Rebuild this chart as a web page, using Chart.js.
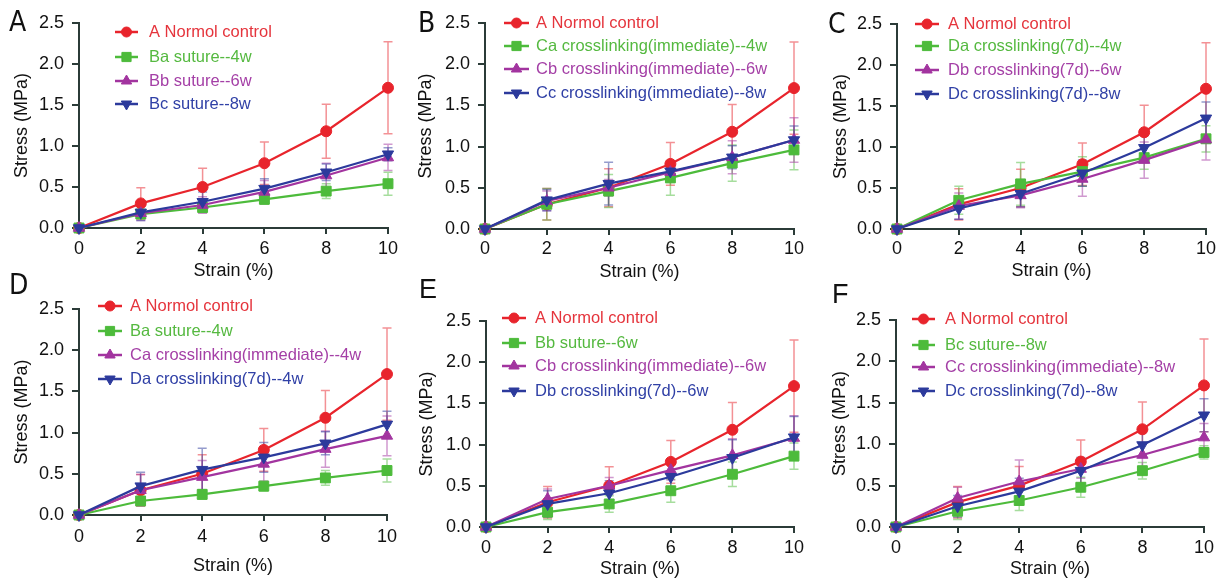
<!DOCTYPE html>
<html><head><meta charset="utf-8">
<script src="https://cdn.jsdelivr.net/npm/chart.js@4.4.0/dist/chart.umd.min.js"></script>
<style>
html,body{margin:0;padding:0;background:#fff;width:1225px;height:580px;overflow:hidden;}
.pc{position:absolute;}
.letter{position:absolute;font-family:"Liberation Sans Narrow","DejaVu Sans Condensed",sans-serif;font-size:28px;color:#111;line-height:1;}
</style></head><body>
<script>
// ---------- data ----------
const strain = [0, 2, 4, 6, 8, 10];
const xTickValues = [0, 2, 4, 6, 8, 10];
const yTickValues = [0, 0.5, 1.0, 1.5, 2.0, 2.5];
const yTickLabels = ['0.0', '0.5', '1.0', '1.5', '2.0', '2.5'];

const normalMean = [0, 0.30, 0.50, 0.79, 1.18, 1.71];
const normalSD   = [0, 0.19, 0.23, 0.26, 0.33, 0.56];
const baMean = [0, 0.17, 0.25, 0.35, 0.45, 0.54];
const baSD   = [0, 0.05, 0.06, 0.06, 0.09, 0.14];
const bbMean = [0, 0.18, 0.28, 0.44, 0.64, 0.86];
const bbSD   = [0, 0.09, 0.10, 0.14, 0.15, 0.16];
const bcMean = [0, 0.19, 0.32, 0.48, 0.68, 0.90];
const bcSD   = [0, 0.10, 0.12, 0.12, 0.10, 0.08];
const caMean = [0, 0.30, 0.46, 0.62, 0.80, 0.96];
const caSD   = [0, 0.19, 0.20, 0.21, 0.22, 0.24];
const cbMean = [0, 0.34, 0.50, 0.69, 0.87, 1.08];
const cbSD   = [0, 0.12, 0.10, 0.12, 0.20, 0.27];
const ccMean = [0, 0.35, 0.55, 0.70, 0.87, 1.08];
const ccSD   = [0, 0.13, 0.26, 0.11, 0.14, 0.17];
const daMean = [0, 0.35, 0.55, 0.70, 0.87, 1.10];
const daSD   = [0, 0.17, 0.26, 0.18, 0.14, 0.16];
const dbMean = [0, 0.28, 0.41, 0.61, 0.84, 1.09];
const dbSD   = [0, 0.16, 0.15, 0.21, 0.22, 0.25];
const dcMean = [0, 0.25, 0.43, 0.68, 0.99, 1.35];
const dcSD   = [0, 0.13, 0.16, 0.16, 0.15, 0.20];

const lblNormal = 'A Normol control';
const lblBa = 'Ba suture--4w', lblBb = 'Bb suture--6w', lblBc = 'Bc suture--8w';
const lblCa = 'Ca crosslinking(immediate)--4w', lblCb = 'Cb crosslinking(immediate)--6w', lblCc = 'Cc crosslinking(immediate)--8w';
const lblDa = 'Da crosslinking(7d)--4w', lblDb = 'Db crosslinking(7d)--6w', lblDc = 'Dc crosslinking(7d)--8w';

const panelLetters = ['A', 'B', 'C', 'D', 'E', 'F'];
const panelSeries = [
  [[lblNormal, normalMean, normalSD], [lblBa, baMean, baSD], [lblBb, bbMean, bbSD], [lblBc, bcMean, bcSD]],
  [[lblNormal, normalMean, normalSD], [lblCa, caMean, caSD], [lblCb, cbMean, cbSD], [lblCc, ccMean, ccSD]],
  [[lblNormal, normalMean, normalSD], [lblDa, daMean, daSD], [lblDb, dbMean, dbSD], [lblDc, dcMean, dcSD]],
  [[lblNormal, normalMean, normalSD], [lblBa, baMean, baSD], [lblCa, caMean, caSD], [lblDa, daMean, daSD]],
  [[lblNormal, normalMean, normalSD], [lblBb, bbMean, bbSD], [lblCb, cbMean, cbSD], [lblDb, dbMean, dbSD]],
  [[lblNormal, normalMean, normalSD], [lblBc, bcMean, bcSD], [lblCc, ccMean, ccSD], [lblDc, dcMean, dcSD]]
];

// ---------- styles / layout ----------
const styles = [
  {line: '#e8242c', err: 'rgba(232,36,44,0.5)', text: '#e5343c', point: 'circle', radius: 5.5, rot: 0},
  {line: '#4dbb3b', err: 'rgba(77,187,59,0.5)', text: '#55b940', point: 'rect', radius: 7, rot: 0},
  {line: '#a2349f', err: 'rgba(162,52,159,0.5)', text: '#a43fa6', point: 'triangle', radius: 6.5, rot: 0},
  {line: '#2c3a9c', err: 'rgba(44,58,156,0.5)', text: '#3040a6', point: 'triangle', radius: 6.5, rot: 180}
];
const AXIS = '#2b3b38';
const layouts = [
  {box: [0, 0, 405, 285],    area: [79, 23, 388, 228],   ytx: 22, xty: 271, xtk: 249, leg: {x0: 115, x1: 138, tx: 149, rows: [32, 57, 81, 104]}, letter: [9, 8, 'n']},
  {box: [405, 0, 410, 285],  area: [485, 23, 794, 229],  ytx: 21, xty: 272, xtk: 249, leg: {x0: 99, x1: 124, tx: 131, rows: [23, 46, 69, 93]}, letter: [418, 9, 'n']},
  {box: [815, 0, 410, 285],  area: [897, 24, 1206, 229], ytx: 26, xty: 271, xtk: 249, leg: {x0: 100, x1: 124, tx: 133, rows: [24, 46, 70, 94]}, letter: [828, 10, 'n']},
  {box: [0, 285, 405, 295],  area: [79, 309, 387, 515],  ytx: 22, xty: 566, xtk: 537, leg: {x0: 98, x1: 122, tx: 130, rows: [21, 46, 70, 94]}, letter: [9, 271, 'n']},
  {box: [405, 285, 410, 295],area: [486, 321, 794, 527], ytx: 22, xty: 570, xtk: 548, leg: {x0: 97, x1: 121, tx: 130, rows: [33, 58, 81, 106]}, letter: [419, 276, 'r']},
  {box: [815, 285, 410, 295],area: [896, 320, 1204, 527],ytx: 25, xty: 570, xtk: 548, leg: {x0: 97, x1: 120, tx: 130, rows: [34, 60, 82, 106]}, letter: [832, 281, 'r']}
];

const TICK_FONT = 18, TITLE_FONT = 18, LEG_FONT = 16.5;

const errorBars = {
  id: 'errorBars',
  beforeDatasetsDraw(chart) {
    const {ctx} = chart, xs = chart.scales.x, ys = chart.scales.y;
    chart.data.datasets.forEach((ds, i) => {
      ctx.save();
      ctx.strokeStyle = ds.errColor;
      ctx.lineWidth = 1.5;
      ds.data.forEach((pt, j) => {
        const e = ds.errors[j];
        if (!e) return;
        const px = xs.getPixelForValue(pt.x);
        const yt = ys.getPixelForValue(pt.y + e), yb = ys.getPixelForValue(pt.y - e);
        ctx.beginPath();
        ctx.moveTo(px, yt); ctx.lineTo(px, yb);
        ctx.moveTo(px - 4.5, yt); ctx.lineTo(px + 4.5, yt);
        ctx.moveTo(px - 4.5, yb); ctx.lineTo(px + 4.5, yb);
        ctx.stroke();
      });
      ctx.restore();
    });
  }
};

const innerLegend = {
  id: 'innerLegend',
  afterDraw(chart, args, opts) {
    const ctx = chart.ctx;
    chart.data.datasets.forEach((ds, i) => {
      const yy = opts.rows[i];
      ctx.save();
      ctx.strokeStyle = ds.borderColor;
      ctx.fillStyle = ds.borderColor;
      ctx.lineWidth = 2.5;
      ctx.beginPath(); ctx.moveTo(opts.x0, yy); ctx.lineTo(opts.x1, yy); ctx.stroke();
      ctx.lineWidth = 1;
      Chart.helpers.drawPoint(ctx, {pointStyle: ds.pointStyle, rotation: ds.pointRotation, radius: ds.pointRadius - 0.5, borderWidth: 1}, (opts.x0 + opts.x1) / 2, yy);
      ctx.fillStyle = ds.textColor;
      ctx.font = LEG_FONT + 'px "Liberation Sans", Arial, sans-serif';
      ctx.textBaseline = 'middle';
      ctx.textAlign = 'left';
      ctx.fillText(ds.label, opts.tx, yy + 0.5);
      ctx.restore();
    });
  }
};

layouts.forEach((L, pi) => {
  const [bl, bt, bw, bh] = L.box;
  const [al, at, ar, ab] = L.area;
  const holder = document.createElement('div');
  holder.className = 'pc';
  holder.style.left = bl + 'px'; holder.style.top = bt + 'px';
  holder.style.width = bw + 'px'; holder.style.height = bh + 'px';
  const cv = document.createElement('canvas');
  cv.width = bw; cv.height = bh;
  cv.style.width = bw + 'px'; cv.style.height = bh + 'px';
  holder.appendChild(cv);
  document.body.appendChild(holder);

  const let_ = document.createElement('div');
  let_.className = 'letter';
  let_.textContent = panelLetters[pi];
  let_.style.left = L.letter[0] + 'px'; let_.style.top = L.letter[1] + 'px';
  if (L.letter[2] === 'r') { let_.style.fontFamily = '"Liberation Sans", Arial, sans-serif'; let_.style.fontSize = '27px'; }
  document.body.appendChild(let_);

  const datasets = panelSeries[pi].map((s, si) => {
    const st = styles[si];
    return {
      label: s[0],
      data: strain.map((x, k) => ({x: x, y: s[1][k]})),
      errors: s[2],
      errColor: st.err,
      textColor: st.text,
      borderColor: st.line,
      backgroundColor: st.line,
      pointBackgroundColor: st.line,
      pointBorderColor: st.line,
      pointStyle: st.point,
      pointRotation: st.rot,
      pointRadius: st.radius,
      pointBorderWidth: 1,
      borderWidth: 2.2,
      tension: 0,
      clip: false,
      order: 4 - si
    };
  });

  const xLh = TICK_FONT * 1.2, tLh = TITLE_FONT * 1.2;
  const xTickPad = L.xtk - ab - 6 - xLh / 2;
  const xTitlePadBottom = Math.max(0, bh - (L.xty - bt) - tLh / 2);
  const yTitlePadTop = L.ytx - tLh / 2;

  new Chart(cv, {
    type: 'line',
    data: {datasets},
    plugins: [errorBars, innerLegend],
    options: {
      responsive: false,
      animation: false,
      devicePixelRatio: 1,
      layout: {padding: {left: 0, top: at - bt, right: (bl + bw) - ar, bottom: 0}},
      plugins: {
        legend: {display: false},
        tooltip: {enabled: false},
        innerLegend: L.leg
      },
      scales: {
        x: {
          type: 'linear', min: 0, max: 10,
          afterBuildTicks: s => { s.ticks = xTickValues.map(v => ({value: v})); },
          afterFit: s => { s.height = (bt + bh) - ab; },
          ticks: {color: '#111', font: {size: TICK_FONT, family: '"Liberation Sans", Arial, sans-serif'}, padding: xTickPad, maxRotation: 0, autoSkip: false},
          grid: {drawOnChartArea: false, drawTicks: true, tickLength: 6, color: AXIS, lineWidth: 2},
          border: {display: true, color: AXIS, width: 2},
          title: {display: true, text: 'Strain (%)', color: '#111', font: {size: TITLE_FONT, family: '"Liberation Sans", Arial, sans-serif'}, padding: {top: 0, bottom: xTitlePadBottom}}
        },
        y: {
          type: 'linear', min: 0, max: 2.5,
          afterBuildTicks: s => { s.ticks = yTickValues.map(v => ({value: v})); },
          afterFit: s => { s.width = al - bl; },
          ticks: {color: '#111', font: {size: TICK_FONT, family: '"Liberation Sans", Arial, sans-serif'}, padding: 8, autoSkip: false,
            callback: (v) => { const k = yTickValues.indexOf(v); return k >= 0 ? yTickLabels[k] : ''; }},
          grid: {drawOnChartArea: false, drawTicks: true, tickLength: 7, color: AXIS, lineWidth: 2},
          border: {display: true, color: AXIS, width: 2},
          title: {display: true, text: 'Stress (MPa)', color: '#111', font: {size: TITLE_FONT, family: '"Liberation Sans", Arial, sans-serif'}, padding: {top: yTitlePadTop, bottom: 0}}
        }
      }
    }
  });
});
</script>
</body></html>
